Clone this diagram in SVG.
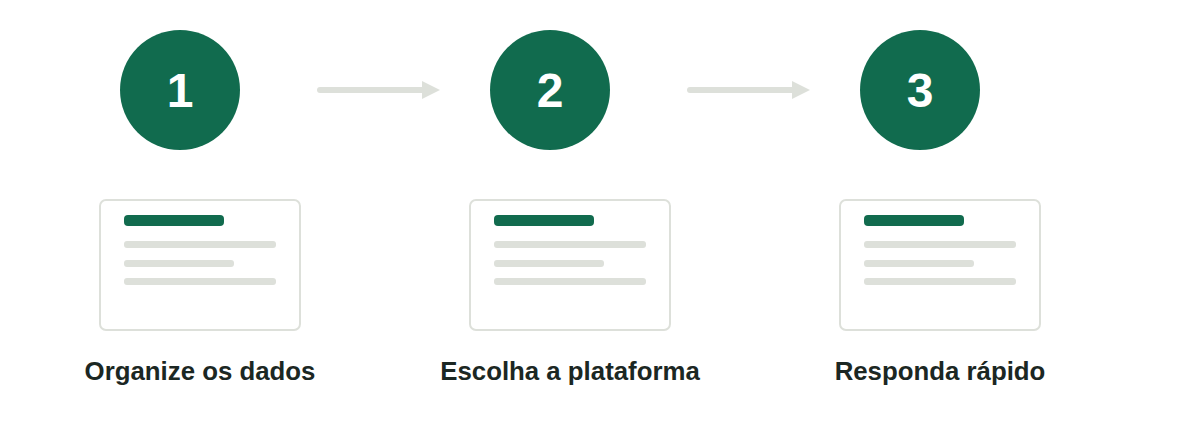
<svg xmlns="http://www.w3.org/2000/svg" width="1200" height="440" viewBox="0 0 1200 440">
<style>
.circ{fill:#116b4e}
.num{font-family:"Liberation Sans",Arial,sans-serif;font-weight:bold;font-size:48px;fill:#ffffff;text-anchor:middle}
.card{fill:#ffffff;stroke:#dde0da;stroke-width:2}
.bar{fill:#116b4e}
.ln{fill:#dde0da}
.lbl{font-family:"Liberation Sans",Arial,sans-serif;font-weight:bold;font-size:25.8px;fill:#1b2723;text-anchor:middle}
.conn{stroke:#dde0da;stroke-width:6;stroke-linecap:round;fill:none}
</style>
<defs>
<marker id="ah" markerWidth="18" markerHeight="18" refX="0" refY="9" markerUnits="userSpaceOnUse" orient="auto">
<polygon points="0,0 18,9 0,18" fill="#dde0da"/>
</marker>
</defs>
<rect width="1200" height="440" fill="#ffffff"/>
<g id="connectors">
<line class="conn" x1="320" y1="90" x2="422" y2="90" marker-end="url(#ah)"/>
<line class="conn" x1="690" y1="90" x2="792" y2="90" marker-end="url(#ah)"/>
</g>
<g id="step1">
<circle class="circ" cx="180" cy="90" r="60"/>
<text class="num" x="180" y="107">1</text>
<rect class="card" x="100" y="200" width="200" height="130" rx="6"/>
<rect class="bar" x="124" y="215" width="100" height="11" rx="4"/>
<rect class="ln" x="124" y="241" width="152" height="7" rx="3"/>
<rect class="ln" x="124" y="260" width="110" height="7" rx="3"/>
<rect class="ln" x="124" y="278" width="152" height="7" rx="3"/>
<text class="lbl" x="200" y="380">Organize os dados</text>
</g>
<g id="step2">
<circle class="circ" cx="550" cy="90" r="60"/>
<text class="num" x="550" y="107">2</text>
<rect class="card" x="470" y="200" width="200" height="130" rx="6"/>
<rect class="bar" x="494" y="215" width="100" height="11" rx="4"/>
<rect class="ln" x="494" y="241" width="152" height="7" rx="3"/>
<rect class="ln" x="494" y="260" width="110" height="7" rx="3"/>
<rect class="ln" x="494" y="278" width="152" height="7" rx="3"/>
<text class="lbl" x="570" y="380">Escolha a plataforma</text>
</g>
<g id="step3">
<circle class="circ" cx="920" cy="90" r="60"/>
<text class="num" x="920" y="107">3</text>
<rect class="card" x="840" y="200" width="200" height="130" rx="6"/>
<rect class="bar" x="864" y="215" width="100" height="11" rx="4"/>
<rect class="ln" x="864" y="241" width="152" height="7" rx="3"/>
<rect class="ln" x="864" y="260" width="110" height="7" rx="3"/>
<rect class="ln" x="864" y="278" width="152" height="7" rx="3"/>
<text class="lbl" x="940" y="380">Responda rápido</text>
</g>
</svg>
